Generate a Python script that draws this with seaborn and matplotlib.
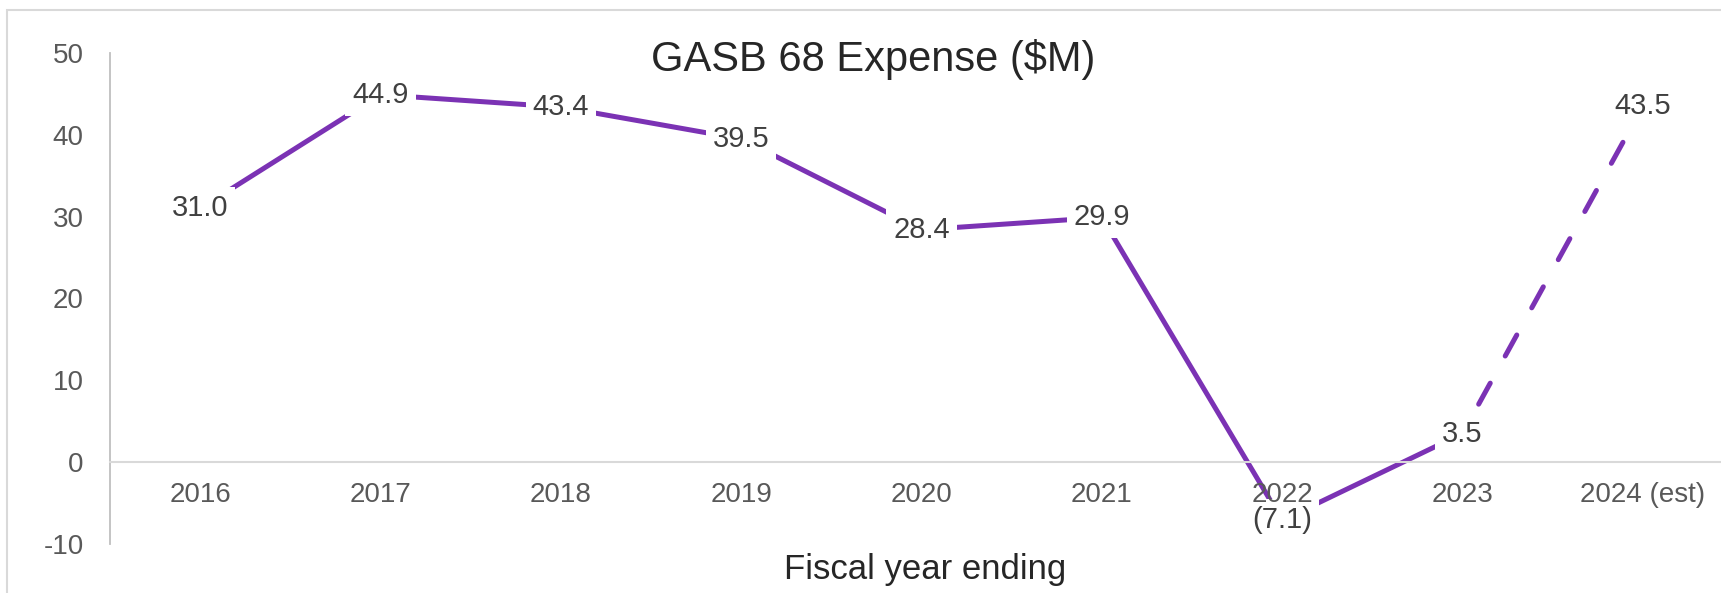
import numpy as np
import pandas as pd
import matplotlib
matplotlib.use("Agg")
import matplotlib.pyplot as plt
import seaborn as sns
from matplotlib.patches import Rectangle

# GASB 68 pension expense by fiscal year ($M); the last year is an estimate
years = ["2016", "2017", "2018", "2019", "2020", "2021", "2022", "2023", "2024 (est)"]
expense = [31.0, 44.9, 43.4, 39.5, 28.4, 29.9, -7.1, 3.5, 43.5]
n_actual = 8
y_ticks = [-10, 0, 10, 20, 30, 40, 50]

sns.set_theme(style="white")
plt.rcParams["font.family"] = ["Liberation Sans", "DejaVu Sans"]
plt.rcParams["axes.unicode_minus"] = False

df = pd.DataFrame({"pos": np.arange(len(years)), "expense": expense, "year": years})
actual = df.iloc[:n_actual]
estimate = df.iloc[n_actual - 1:]

W, H = 1721, 593
fig = plt.figure(figsize=(W / 100, H / 100), dpi=100)
fig.patch.set_facecolor("white")
ax = fig.add_axes([110 / W, 49 / H, 1623 / W, 491 / H])

purple = "#7B32B4"
sns.lineplot(data=actual, x="pos", y="expense", color=purple, linewidth=3.6,
             ax=ax, zorder=2, solid_joinstyle="round")
sns.lineplot(data=estimate, x="pos", y="expense", color=purple, linewidth=3.6,
             linestyle=(4.3, (4.8, 6.2)), dash_capstyle="round", ax=ax, zorder=2)

# value labels sit on the points, with a white box hiding the line beneath
for p, v in zip(df["pos"], df["expense"]):
    txt = f"({abs(v):.1f})" if v < 0 else f"{v:.1f}"
    ax.text(p, v, txt, ha="center", va="center", fontsize=21, color="#404040",
            zorder=4, bbox=dict(boxstyle="square,pad=0.24", fc="white", ec="none"))

ax.set_xlim(-0.5, len(years) - 0.5)
ax.set_ylim(-10, 50)
ax.set_yticks(y_ticks)
ax.set_xticks(df["pos"], years)

for side in ("top", "right"):
    ax.spines[side].set_visible(False)
ax.spines["bottom"].set_position(("data", 0))
ax.spines["bottom"].set_color("#d9d9d9")
ax.spines["bottom"].set_linewidth(1.5)
ax.spines["left"].set_color("#bfbfbf")
ax.spines["left"].set_linewidth(1.3)

ax.tick_params(axis="y", length=0, pad=19, labelsize=20, labelcolor="#595959")
ax.tick_params(axis="x", length=0, pad=14, labelsize=20, labelcolor="#595959")
ax.xaxis.set_zorder(5)

ax.set_ylabel("")
ax.set_xlabel("Fiscal year ending", fontsize=25, color="#262626")
ax.xaxis.set_label_coords((925 - 110) / 1623, (544 - 569) / 491)
ax.xaxis.label.set_verticalalignment("center")

fig.text(873 / W, 1 - 59 / H, "GASB 68 Expense ($M)", ha="center", va="center",
         fontsize=30, color="#262626")

# chart frame
fig.add_artist(Rectangle((7 / W, -0.2), 1.5, 1.2 - 10 / H, transform=fig.transFigure,
                         fill=False, ec="#d9d9d9", lw=1.5))

fig.savefig("out.png", dpi=100, facecolor="white")
